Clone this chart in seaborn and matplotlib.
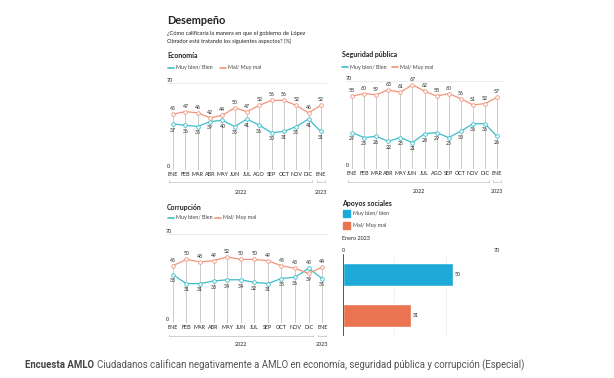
import seaborn as sns
import numpy as np
import pandas as pd
import matplotlib.pyplot as plt
import matplotlib.transforms as mtrans
from matplotlib.lines import Line2D
from matplotlib.patches import Rectangle

sns.set_style('white')
plt.rcParams['font.family'] = ['Lato', 'DejaVu Sans']

# --- data ---
meses = ['ENE', 'FEB', 'MAR', 'ABR', 'MAY', 'JUN', 'JUL', 'AGO', 'SEP', 'OCT', 'NOV', 'DIC', 'ENE']
meses_corr = ['ENE', 'FEB', 'MAR', 'ABR', 'MAY', 'JUN', 'JUL', 'SEP', 'OCT', 'NOV', 'DIC', 'ENE']

eco_bien = [37, 36, 35, 39, 40, 35, 41, 36, 30, 31, 35, 41, 31]
eco_mal = [45, 47, 46, 42, 44, 50, 47, 52, 56, 56, 52, 46, 52]

seg_bien = [29, 25, 26, 22, 25, 21, 28, 29, 25, 30, 36, 36, 26]
seg_mal = [58, 60, 59, 63, 61, 67, 62, 58, 60, 56, 51, 52, 57]

corr_bien = [38, 31, 31, 33, 34, 34, 32, 31, 35, 36, 43, 35]
corr_mal = [45, 50, 48, 49, 52, 50, 50, 49, 45, 43, 39, 44]

apoyos_cat = ['Muy bien/ bien', 'Mal/ Muy mal']
apoyos_val = [50, 31]

TEAL = '#3dbdc8'
SALMON = '#f0957a'
BAR_BLUE = '#1eaad8'
BAR_ORANGE = '#ea7452'
GRID = '#c4c4c4'
TXT = '#222222'

W, H = 614, 378
fig = plt.figure(figsize=(6.14, 3.78), dpi=100)
fig.patch.set_facecolor('white')


def box(x0, y0, x1, y1):
    return [x0 / W, 1 - y1 / H, (x1 - x0) / W, (y1 - y0) / H]


def ft(x, y, s, **kw):
    kw.setdefault('va', 'center')
    kw.setdefault('color', TXT)
    return fig.text(x / W, 1 - y / H, s, **kw)


def legend_lines(x, y, gap):
    for i, (c, lab) in enumerate([(TEAL, 'Muy bien/ Bien'), (SALMON, 'Mal/ Muy mal')]):
        xx = x + i * gap
        fig.add_artist(Line2D([xx / W, (xx + 6) / W], [1 - y / H] * 2, color=c, lw=1.2))
        ft(xx + 8, y, lab, fontsize=3.9, color='#444444')


def line_panel(rect, labels, bien, mal, year_y):
    ax = fig.add_axes(box(*rect))
    n = len(labels)
    idx = np.arange(n)
    df = pd.DataFrame({'i': idx, 'bien': bien, 'mal': mal})
    top = np.maximum(df['bien'], df['mal'])
    ax.vlines(idx, 0, top, color=GRID, lw=0.6, zorder=0)
    ax.axhline(70, color='#e6e6e6', lw=0.6, zorder=0)
    ax.axhline(0, color='#9a9a9a', lw=0.6, zorder=0)
    for col, c in [('bien', TEAL), ('mal', SALMON)]:
        sns.lineplot(data=df, x='i', y=col, ax=ax, color=c, lw=0.9, marker='o',
                     markersize=2.6, markerfacecolor='white', markeredgecolor=c,
                     markeredgewidth=0.6, zorder=3)
    for i in idx:
        b, m = bien[i], mal[i]
        hi_b = b > m
        ax.annotate(str(m), (i, m), xytext=(0, -4.5 if hi_b else 4), textcoords='offset points',
                    ha='center', va='center', fontsize=3.7, color=TXT)
        ax.annotate(str(b), (i, b), xytext=(0, 4 if hi_b else -4.5), textcoords='offset points',
                    ha='center', va='center', fontsize=3.7, color=TXT)
    ax.set_xlim(-0.5, n - 0.5)
    ax.set_ylim(0, 70)
    ax.set_xticks(idx)
    ax.set_xticklabels(labels, fontsize=3.9, color=TXT)
    ax.tick_params(axis='x', length=0, pad=1.5)
    ax.set_yticks([])
    ax.set_xlabel('')
    ax.set_ylabel('')
    sns.despine(ax=ax, left=True, bottom=True)
    ax.text(-0.5, 70, '70', fontsize=3.9, color=TXT, ha='left', va='bottom')
    ax.text(-0.5, 0.5, '0', fontsize=3.9, color=TXT, ha='left', va='bottom')
    # year bracket
    tr = mtrans.blended_transform_factory(ax.transData, fig.transFigure)
    yl = 1 - year_y[0] / H
    yt = 1 - year_y[1] / H
    for a, b in [(-0.3, n - 2 + 0.3), (n - 1 - 0.3, n - 1 + 0.3)]:
        ax.plot([a, b], [yl, yl], color='#bdbdbd', lw=0.5, transform=tr, clip_on=False)
        for xx in (a, b):
            ax.plot([xx, xx], [yl, yl + 1.5 / H], color='#bdbdbd', lw=0.5, transform=tr, clip_on=False)
    ax.text((n - 2) / 2, yt, '2022', fontsize=3.9, color=TXT, ha='center', va='center', transform=tr)
    ax.text(n - 1, yt, '2023', fontsize=3.9, color=TXT, ha='center', va='center', transform=tr)
    return ax


# header
ft(167, 21, 'Desempeño', fontsize=7.9, fontweight='bold')
ft(167, 34, '¿Cómo calificaría la manera en que el gobierno de López', fontsize=4.05)
ft(167, 41, 'Obrador está tratando los siguientes aspectos? (%)', fontsize=4.05)

# Economía
ft(167, 56, 'Economía', fontsize=5, fontweight='bold')
legend_lines(168, 68, 52)
line_panel((167, 83, 327, 170), meses, eco_bien, eco_mal, (182, 193))

# Seguridad pública
ft(342, 55, 'Seguridad pública', fontsize=5, fontweight='bold')
legend_lines(342, 67, 50)
line_panel((346, 81, 503, 169), meses, seg_bien, seg_mal, (182, 191))

# Corrupción
ft(167, 207, 'Corrupción', fontsize=5, fontweight='bold')
legend_lines(168, 218, 47)
line_panel((166, 234, 329, 323), meses_corr, corr_bien, corr_mal, (336, 344))

# Apoyos sociales
ft(342, 203, 'Apoyos sociales', fontsize=5, fontweight='bold')
for j, (c, lab) in enumerate([(BAR_BLUE, 'Muy bien/ bien'), (BAR_ORANGE, 'Mal/ Muy mal')]):
    yy = 214 + j * 11
    fig.add_artist(Rectangle((343 / W, 1 - (yy + 3.5) / H), 7 / W, 7 / H, color=c,
                             transform=fig.transFigure))
    ft(353, yy, lab, fontsize=3.9, color='#444444')
ft(342, 238, 'Enero 2023', fontsize=3.9)

axb = fig.add_axes(box(343, 254, 497, 336))
dfb = pd.DataFrame({'cat': apoyos_cat, 'val': apoyos_val})
sns.barplot(data=dfb, y='cat', x='val', hue='cat', palette=[BAR_BLUE, BAR_ORANGE],
            width=0.55, ax=axb, legend=False, orient='h', saturation=1)
for k, v in enumerate(apoyos_val):
    axb.text(v + 0.8, k, str(v), fontsize=3.7, color=TXT, ha='left', va='center')
axb.set_xlim(0, 70)
axb.set_ylim(1.5, -0.5)
for gx in (70 / 3, 140 / 3, 70):
    axb.axvline(gx, color='#ececec', lw=0.5, zorder=0)
axb.axvline(0, color='#555555', lw=0.7)
axb.set_xticks([0, 70])
axb.set_xticklabels(['0', '70'], fontsize=3.9, color=TXT)
axb.xaxis.tick_top()
axb.tick_params(axis='x', length=0, pad=1)
axb.set_yticks([])
axb.set_xlabel('')
axb.set_ylabel('')
sns.despine(ax=axb, left=True, bottom=True, top=True, right=True)

# caption: bold lead-in followed by the regular text
cap_font = ['Roboto', 'DejaVu Sans']
lead = ft(25, 365, 'Encuesta AMLO', fontsize=6.9, fontweight='bold', color='#444444', family=cap_font)
fig.canvas.draw()
x_end = lead.get_window_extent().x1
fig.text((x_end + 3) / W, 1 - 365 / H,
         'Ciudadanos califican negativamente a AMLO en economía, seguridad pública y corrupción (Especial)',
         fontsize=6.9, color='#555555', va='center', family=cap_font)

fig.savefig('out.png', dpi=100, facecolor='white')
